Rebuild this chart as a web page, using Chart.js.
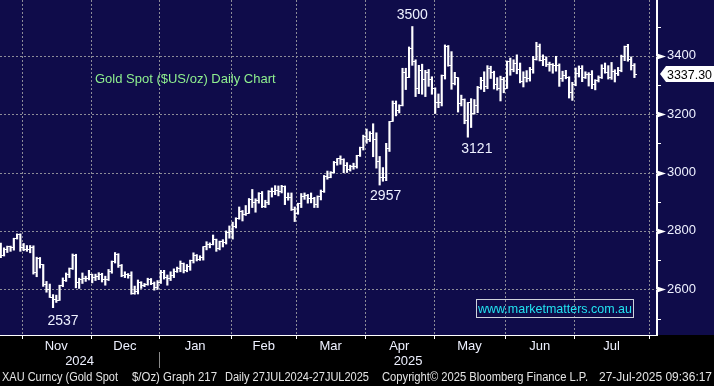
<!DOCTYPE html>
<html>
<head>
<meta charset="utf-8">
<script src="https://cdn.jsdelivr.net/npm/chart.js@4.4.1/dist/chart.umd.min.js"></script>
<style>
  html, body { margin: 0; padding: 0; background: #000; }
  #wrap { width: 714px; height: 386px; position: relative; }
  canvas { display: block; }
</style>
</head>
<body>
<div id="wrap"><canvas id="c" width="714" height="386"></canvas></div>
<script>
// ---------------- DATA ----------------
const firstDay = '2024-10-21';
const axisEndDay = '2025-08-08';
const holidays = ['2024-12-25', '2025-01-01', '2025-04-18'];

// Daily OHLC (Oct 21 2024 .. Jul 25 2025), one line per month
const opens = [
  2721,2720,2748,2715,2736,2747,2743,2774,2788,
  2744,2736,2736,2742,2659,2706,2685,2618,2598,2573,2565,2563,2612,2631,2651,2670,2716,2625,2633,2637,2638,
  2650,2640,2643,2650,2632,2633,2660,2694,2718,2680,2648,2652,2646,2586,2594,2622,2612,2617,2634,2621,2606,
  2624,2658,2640,2636,2648,2662,2670,2690,2663,2677,2697,2715,2703,2708,2745,2755,2754,2770,2740,2763,2760,2794,
  2798,2815,2842,2867,2856,2861,2908,2898,2904,2928,2883,2898,2935,2934,2939,2936,2951,2915,2916,2875,
  2858,2893,2918,2920,2910,2910,2889,2917,2934,2987,2984,3001,3034,3048,3044,3023,3011,3020,3019,3057,3084,
  3124,3113,3134,3114,3037,2982,2982,3083,3175,3237,3211,3230,3343,3327,3425,3381,3288,3349,3319,3343,3317,
  3288,3240,3240,3333,3431,3365,3306,3325,3235,3249,3178,3240,3202,3229,3290,3314,3294,3357,3342,3300,3288,3317,
  3289,3381,3353,3373,3353,3310,3325,3322,3354,3386,3433,3384,3388,3369,3370,3368,3368,3322,3333,3327,3274,
  3303,3338,3357,3326,3337,3336,3301,3314,3324,3355,3344,3324,3347,3339,3350,3397,3431,3387,3368
];
const highs = [
  2740,2749,2758,2742,2748,2748,2775,2790,2790,
  2757,2750,2750,2749,2710,2709,2685,2627,2618,2582,2580,2614,2639,2656,2673,2721,2720,2638,2656,2645,2665,
  2652,2652,2657,2655,2645,2668,2697,2726,2722,2685,2660,2654,2660,2611,2632,2626,2620,2638,2637,2625,2630,
  2665,2665,2649,2660,2670,2676,2697,2690,2685,2700,2725,2719,2715,2746,2763,2759,2786,2772,2765,2770,2800,2817,
  2830,2845,2882,2870,2887,2911,2942,2910,2931,2935,2905,2938,2947,2955,2954,2956,2954,2930,2930,2882,
  2895,2928,2930,2925,2930,2915,2920,2940,2990,3005,3003,3038,3048,3057,3047,3034,3025,3032,3059,3087,3128,
  3149,3140,3167,3136,3055,3017,3100,3175,3245,3245,3232,3357,3357,3430,3500,3386,3367,3371,3350,3353,3328,
  3290,3269,3334,3437,3435,3414,3343,3325,3265,3252,3240,3253,3250,3295,3326,3345,3366,3364,3347,3325,3330,3326,
  3382,3392,3386,3403,3375,3345,3349,3360,3398,3446,3440,3403,3396,3378,3373,3398,3372,3347,3350,3328,3309,
  3358,3365,3366,3345,3342,3349,3318,3331,3369,3375,3366,3377,3352,3360,3402,3433,3439,3396,3373
];
const lows = [
  2704,2714,2708,2714,2726,2730,2734,2772,2730,
  2732,2730,2725,2652,2643,2673,2610,2590,2572,2537,2555,2562,2609,2627,2640,2668,2605,2603,2620,2627,2632,
  2622,2630,2633,2625,2614,2630,2655,2690,2675,2643,2640,2638,2583,2583,2584,2603,2609,2614,2616,2597,2600,
  2620,2635,2614,2630,2640,2658,2660,2656,2660,2665,2690,2697,2699,2700,2735,2742,2752,2730,2735,2745,2755,2775,
  2772,2810,2840,2834,2853,2860,2880,2864,2895,2880,2880,2890,2916,2924,2920,2930,2890,2905,2870,2832,
  2857,2880,2908,2895,2896,2880,2880,2906,2932,2977,2982,2998,3025,3028,2999,3000,3005,3011,3015,3055,3077,
  3100,3106,3054,3015,2957,2970,2972,3072,3175,3194,3204,3228,3284,3325,3367,3260,3270,3268,3260,3295,3268,
  3202,3222,3228,3320,3364,3285,3300,3207,3228,3167,3121,3154,3200,3205,3285,3277,3287,3322,3286,3282,3245,3273,
  3288,3333,3345,3338,3307,3293,3310,3313,3340,3385,3382,3366,3363,3347,3340,3347,3295,3312,3321,3255,3247,
  3297,3327,3311,3322,3296,3287,3283,3310,3322,3340,3320,3319,3310,3332,3345,3383,3381,3351,3325
];
const closes = [
  2720,2748,2715,2736,2747,2743,2774,2788,2744,
  2736,2736,2742,2659,2706,2685,2618,2598,2573,2565,2563,2612,2631,2651,2670,2716,2625,2633,2637,2638,2650,
  2640,2643,2650,2632,2633,2660,2694,2718,2680,2648,2652,2646,2586,2594,2622,2612,2617,2634,2621,2606,2624,
  2658,2640,2636,2648,2662,2670,2690,2663,2677,2697,2715,2703,2708,2745,2755,2754,2770,2740,2763,2760,2794,2798,
  2815,2842,2867,2856,2861,2908,2898,2904,2928,2883,2898,2935,2934,2939,2936,2951,2915,2916,2875,2858,
  2893,2918,2920,2910,2910,2889,2917,2934,2987,2984,3001,3034,3048,3044,3023,3011,3020,3019,3057,3084,3124,
  3113,3134,3114,3037,2982,2982,3083,3175,3237,3211,3230,3343,3327,3425,3381,3288,3349,3319,3343,3317,3288,
  3240,3240,3333,3431,3365,3306,3325,3235,3249,3178,3240,3202,3229,3290,3314,3294,3357,3342,3300,3288,3317,3289,
  3381,3353,3373,3353,3310,3325,3322,3354,3386,3433,3384,3388,3369,3370,3368,3368,3322,3333,3327,3274,3303,
  3338,3357,3326,3337,3336,3301,3314,3324,3355,3344,3324,3347,3339,3350,3397,3431,3387,3368,3337.30
];

const yTicks = [2500, 2600, 2700, 2800, 2900, 3000, 3100, 3200, 3300, 3400, 3500];
const yLabelled = [2600, 2800, 3000, 3200, 3400];
const yRange = [2443.5, 3590.8];
const monthNames = ['Jan','Feb','Mar','Apr','May','Jun','Jul','Aug','Sep','Oct','Nov','Dec'];
const yearLabels = ['2024', '2025'];

const peakLabels = [
  { date: '2024-11-14', kind: 'low' },
  { date: '2025-04-07', kind: 'low' },
  { date: '2025-04-22', kind: 'high' },
  { date: '2025-05-15', kind: 'low' }
];

const titleText = 'Gold Spot ($US/oz) Daily Chart';
const watermarkText = 'www.marketmatters.com.au';
const footerParts = [
  'XAU Curncy (Gold Spot',
  '$/Oz) Graph 217',
  'Daily 27JUL2024-27JUL2025',
  'Copyright\u00A9 2025 Bloomberg Finance L.P.',
  '27-Jul-2025 09:36:17'
];

// ---------------- CALENDAR ----------------
function tradingDays(start, end, skip) {
  const out = [];
  const d = new Date(start + 'T00:00:00Z');
  const e = new Date(end + 'T00:00:00Z');
  while (d <= e) {
    const wd = d.getUTCDay();
    const s = d.toISOString().slice(0, 10);
    if (wd !== 0 && wd !== 6 && !skip.includes(s)) out.push(s);
    d.setUTCDate(d.getUTCDate() + 1);
  }
  return out;
}
const days = tradingDays(firstDay, axisEndDay, holidays);
const nData = closes.length;

const boundaries = [];
for (let i = 1; i < days.length; i++) {
  if (days[i].slice(0, 7) !== days[i - 1].slice(0, 7)) {
    boundaries.push({ value: i - 0.5, ym: days[i].slice(0, 7) });
  }
}
const bOf = ym => boundaries.find(b => b.ym === ym).value;
const bNov = bOf('2024-11'), bJul = bOf('2025-07'), bJan = bOf('2025-01');
const span = bJul - bNov;
const xMin = bNov - span * 22 / 552;
const xMax = xMin + span * 657 / 552;

const xTickList = [];
boundaries.forEach((b, k) => {
  if (b.value >= xMin && b.value <= xMax) xTickList.push({ value: b.value, major: true, month: '' });
  const next = boundaries[k + 1];
  if (next) {
    const mid = (b.value + next.value) / 2;
    if (mid >= xMin && mid <= xMax) {
      xTickList.push({ value: mid, major: false, month: monthNames[parseInt(b.ym.slice(5, 7), 10) - 1] });
    }
  }
});
xTickList.sort((a, b) => a.value - b.value);

// ---------------- STYLE ----------------
const NAVY = '#0f0c4a';
const GRID = '#8c8c98';
const TXT = '#eef1ff';
const FONT = "'Liberation Sans', Arial, sans-serif";

function tickImage(side) {
  const cv = document.createElement('canvas');
  cv.width = 6; cv.height = 1;
  const g = cv.getContext('2d');
  g.fillStyle = '#ffffff';
  g.fillRect(side === 'left' ? 0 : 3, 0, 3, 1);
  return cv;
}

const barData = [], openData = [], closeData = [];
for (let i = 0; i < nData; i++) {
  barData.push({ x: i, y: [lows[i], highs[i]] });
  openData.push({ x: i, y: opens[i] });
  closeData.push({ x: i, y: closes[i] });
}

const gridPlugin = {
  id: 'dottedGrid',
  beforeDatasetsDraw(chart) {
    const { ctx, chartArea } = chart;
    const xs = chart.scales.x, ys = chart.scales.y;
    ctx.save();
    ctx.lineWidth = 1;
    xs.ticks.forEach(t => {
      if (!t.major) return;
      const x = Math.round(xs.getPixelForValue(t.value)) + 0.5;
      ctx.strokeStyle = GRID;
      ctx.setLineDash([2, 2]);
      ctx.beginPath(); ctx.moveTo(x, chartArea.top); ctx.lineTo(x, chartArea.bottom); ctx.stroke();
      ctx.strokeStyle = '#ffffff';
      ctx.setLineDash([]);
      ctx.beginPath(); ctx.moveTo(x, chartArea.bottom); ctx.lineTo(x, chartArea.bottom + 4); ctx.stroke();
    });
    ys.ticks.forEach(t => {
      const y = Math.round(ys.getPixelForValue(t.value)) + 0.5;
      if (yLabelled.includes(t.value)) {
        ctx.strokeStyle = GRID;
        ctx.setLineDash([2, 2]);
        ctx.beginPath(); ctx.moveTo(chartArea.left, y); ctx.lineTo(chartArea.right, y); ctx.stroke();
      } else {
        ctx.strokeStyle = '#ffffff';
        ctx.setLineDash([]);
        ctx.beginPath(); ctx.moveTo(chartArea.right, y); ctx.lineTo(chartArea.right + 4, y); ctx.stroke();
      }
    });
    ctx.restore();
  }
};

const decorPlugin = {
  id: 'decor',
  beforeDraw(chart) {
    const { ctx, chartArea } = chart;
    ctx.save();
    ctx.fillStyle = NAVY;
    ctx.fillRect(0, 0, chart.width, chartArea.bottom);
    ctx.restore();
  },
  afterDraw(chart) {
    const { ctx, chartArea } = chart;
    const xs = chart.scales.x, ys = chart.scales.y;
    ctx.save();

    ctx.fillStyle = '#ffffff';
    yLabelled.forEach(v => {
      const y = Math.round(ys.getPixelForValue(v)) + 0.5;
      ctx.beginPath();
      ctx.moveTo(chartArea.right, y - 3);
      ctx.lineTo(chartArea.right + 9, y);
      ctx.lineTo(chartArea.right, y + 3);
      ctx.closePath();
      ctx.fill();
    });

    const last = closes[nData - 1];
    const ly = ys.getPixelForValue(last);
    ctx.fillStyle = '#ffffff';
    ctx.beginPath();
    ctx.moveTo(chartArea.right + 3, ly);
    ctx.lineTo(chartArea.right + 9, ly - 8);
    ctx.lineTo(chart.width, ly - 8);
    ctx.lineTo(chart.width, ly + 8);
    ctx.lineTo(chartArea.right + 9, ly + 8);
    ctx.closePath();
    ctx.fill();
    ctx.fillStyle = '#000';
    ctx.font = '13px ' + FONT;
    ctx.textAlign = 'left';
    ctx.textBaseline = 'middle';
    ctx.fillText(last.toFixed(2), chartArea.right + 10, ly + 1, 45);

    const offs = { '2024-11-14': [10, 13], '2025-04-07': [6, 11], '2025-04-22': [0, -11], '2025-05-15': [9, 12] };
    ctx.fillStyle = TXT;
    ctx.textAlign = 'center';
    ctx.font = '14px ' + FONT;
    peakLabels.forEach(p => {
      const i = days.indexOf(p.date);
      const v = p.kind === 'low' ? lows[i] : highs[i];
      const o = offs[p.date];
      ctx.fillText(String(Math.round(v)), xs.getPixelForValue(i) + o[0], ys.getPixelForValue(v) + o[1]);
    });

    ctx.fillStyle = '#8ff08f';
    ctx.textAlign = 'left';
    ctx.font = '13px ' + FONT;
    ctx.fillText(titleText, 95, 79);

    ctx.strokeStyle = '#cfd3dc';
    ctx.lineWidth = 1;
    ctx.strokeRect(476.5, 299.5, 157, 18);
    ctx.fillStyle = '#22e2f0';
    ctx.textAlign = 'center';
    ctx.font = '13px ' + FONT;
    ctx.fillText(watermarkText, 555, 309, 154);

    const jx = xs.getPixelForValue(bJan);
    ctx.fillStyle = TXT;
    ctx.font = '13px ' + FONT;
    ctx.fillText(yearLabels[0], (chartArea.left + jx) / 2, 361);
    ctx.fillText(yearLabels[1], (jx + chartArea.right) / 2, 361);
    ctx.strokeStyle = '#8a8a8a';
    ctx.beginPath();
    ctx.moveTo(Math.round(jx) + 0.5, 352);
    ctx.lineTo(Math.round(jx) + 0.5, 368);
    ctx.stroke();

    const fx = [2, 132, 225, 382, 599];
    const fw = [116, 85, 144, 206, 113];
    ctx.fillStyle = '#e4e4e4';
    ctx.textAlign = 'left';
    ctx.font = '12px ' + FONT;
    footerParts.forEach((t, k) => ctx.fillText(t, fx[k], 378, fw[k]));

    ctx.restore();
  }
};

const chart = new Chart(document.getElementById('c'), {
  type: 'bar',
  data: {
    datasets: [
      {
        type: 'bar',
        data: barData,
        backgroundColor: '#ffffff',
        borderWidth: 0,
        barThickness: 1.5,
        grouped: false,
        order: 3
      },
      {
        type: 'line',
        data: openData,
        showLine: false,
        pointStyle: tickImage('left'),
        pointRadius: 2,
        order: 2
      },
      {
        type: 'line',
        data: closeData,
        showLine: false,
        pointStyle: tickImage('right'),
        pointRadius: 2,
        order: 1
      }
    ]
  },
  options: {
    responsive: false,
    maintainAspectRatio: false,
    devicePixelRatio: 1,
    animation: false,
    events: [],
    layout: { padding: 0, autoPadding: false },
    plugins: { legend: { display: false }, tooltip: { enabled: false } },
    scales: {
      x: {
        type: 'linear',
        position: 'bottom',
        offset: false,
        min: xMin,
        max: xMax,
        afterBuildTicks: s => { s.ticks = xTickList.map(t => ({ ...t })); },
        afterFit: s => { s.height = 51; s.paddingLeft = 0; s.paddingRight = 0; },
        grid: { display: false, offset: false, tickLength: 3 },
        border: { display: true, color: '#ffffff', width: 1 },
        ticks: {
          autoSkip: false,
          maxRotation: 0,
          padding: 1,
          color: TXT,
          font: { family: FONT, size: 13 },
          callback: (v, i, ticks) => (ticks[i] && ticks[i].month) || ''
        }
      },
      y: {
        type: 'linear',
        position: 'right',
        min: yRange[0],
        max: yRange[1],
        afterBuildTicks: s => { s.ticks = yTicks.map(v => ({ value: v })); },
        afterFit: s => { s.width = 57; s.paddingTop = 0; s.paddingBottom = 0; },
        grid: { display: false, tickLength: 4 },
        border: { display: true, color: '#ffffff', width: 2 },
        ticks: {
          autoSkip: false,
          padding: 6,
          color: TXT,
          font: { family: FONT, size: 13 },
          callback: v => yLabelled.includes(v) ? String(v) : ''
        }
      }
    }
  },
  plugins: [decorPlugin, gridPlugin]
});
</script>
</body>
</html>
